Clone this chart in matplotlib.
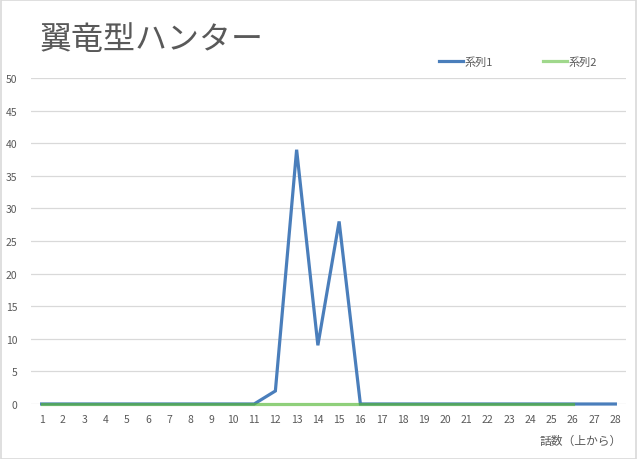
import matplotlib
matplotlib.use("Agg")
import matplotlib.pyplot as plt
from matplotlib.lines import Line2D

plt.rcParams['font.family'] = ['Noto Sans CJK JP', 'DejaVu Sans']

title = "翼竜型ハンター"
series1_name = "系列1"
series2_name = "系列2"
xlabel = "話数（上から）"

episodes1 = list(range(1, 29))
series1 = [0, 0, 0, 0, 0, 0, 0, 0, 0, 0, 0, 2, 39, 9, 28, 0,
           0, 0, 0, 0, 0, 0, 0, 0, 0, 0, 0, 0]
episodes2 = list(range(1, 27))
series2 = [0] * 26

yticks = list(range(0, 51, 5))

blue = "#4A7EBB"
green = "#55B835"
text_gray = "#595959"
grid_gray = "#D9D9D9"

fig = plt.figure(figsize=(6.37, 4.6), dpi=100)
ax = fig.add_axes([31 / 637, 55 / 460, 595 / 637, 326 / 460])

ax.plot(episodes1, series1, color=blue, lw=2.3, solid_joinstyle="miter",
        zorder=3, clip_on=False)
ax.plot(episodes2, series2, color=green, lw=2.3, alpha=0.65, zorder=4,
        clip_on=False)

ax.set_xlim(0.5, 28.5)
ax.set_ylim(0, 50)
ax.set_yticks(yticks)
ax.set_xticks(episodes1)
ax.grid(axis="y", color=grid_gray, lw=0.9)
ax.set_axisbelow(True)
for s in ax.spines.values():
    s.set_visible(False)
ax.tick_params(length=0, labelsize=7.5, colors=text_gray, pad=7)
ax.tick_params(axis="y", pad=10)

fig.text(40 / 637, 1 - 40 / 460, title, fontsize=23, color=text_gray,
         ha="left", va="center")
fig.text(622 / 637, 1 - 441 / 460, xlabel, fontsize=8.5, color=text_gray,
         ha="right", va="center")

handles = [Line2D([], [], color=blue, lw=2.3),
           Line2D([], [], color="#A0D88C", lw=2.3)]
fig.legend(handles, [series1_name, series2_name], loc="center",
           bbox_to_anchor=(518 / 637, 1 - 63 / 460), ncol=2, frameon=False,
           fontsize=8, handlelength=2.2, handletextpad=0.1, columnspacing=4.5,
           labelcolor=text_gray)

# outer border
fig.patches.append(plt.Rectangle((0.001, 0.001), 0.997, 0.997, transform=fig.transFigure,
                                 fill=False, edgecolor="#D9D9D9", lw=1.2))

fig.savefig("out.png", dpi=100)
